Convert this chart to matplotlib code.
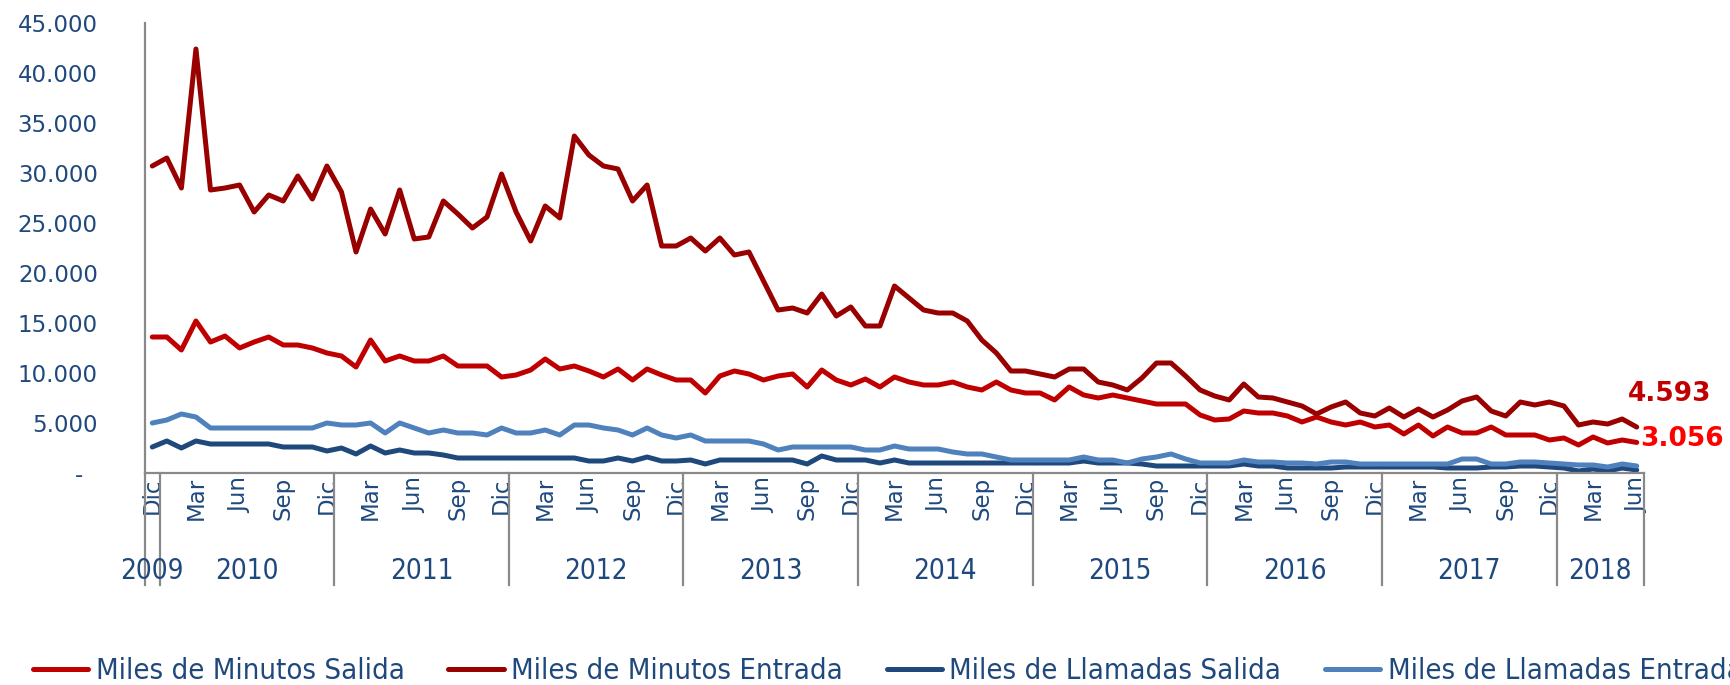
import numpy as np
import matplotlib.pyplot as plt
import matplotlib.transforms as mtransforms
from matplotlib.ticker import FuncFormatter

# meses de Dic 2009 a Jun 2018
meses = ['Ene', 'Feb', 'Mar', 'Abr', 'May', 'Jun', 'Jul', 'Ago', 'Sep', 'Oct', 'Nov', 'Dic']
etiquetas_mes = ['Dic'] + meses * 8 + meses[:6]
anios = ['2009', '2010', '2011', '2012', '2013', '2014', '2015', '2016', '2017', '2018']
meses_por_anio = [1, 12, 12, 12, 12, 12, 12, 12, 12, 6]

minutos_salida = [
    13600,
    13600, 12300, 15200, 13100, 13700, 12500, 13100, 13600, 12800, 12800, 12500, 12000,
    11700, 10600, 13300, 11200, 11700, 11200, 11200, 11700, 10700, 10700, 10700, 9600,
    9800, 10300, 11400, 10400, 10700, 10200, 9600, 10400, 9300, 10400, 9800, 9300,
    9300, 8000, 9700, 10200, 9900, 9300, 9700, 9900, 8600, 10300, 9300, 8800,
    9400, 8600, 9600, 9100, 8800, 8800, 9100, 8600, 8300, 9100, 8300, 8000,
    8000, 7300, 8600, 7800, 7500, 7800, 7500, 7200, 6900, 6900, 6900, 5800,
    5300, 5400, 6200, 6000, 6000, 5700, 5100, 5600, 5100, 4800, 5100, 4600,
    4800, 3900, 4800, 3700, 4600, 4000, 4000, 4600, 3800, 3800, 3800, 3300,
    3500, 2800, 3600, 3000, 3300, 3056,
]
minutos_entrada = [
    30700,
    31500, 28500, 42400, 28300, 28500, 28800, 26100, 27800, 27200, 29700, 27400, 30700,
    28100, 22100, 26400, 23900, 28300, 23400, 23600, 27200, 25900, 24500, 25600, 29900,
    26100, 23200, 26700, 25500, 33700, 31800, 30700, 30400, 27200, 28800, 22700, 22700,
    23500, 22200, 23500, 21800, 22100, 19200, 16300, 16500, 16000, 17900, 15700, 16600,
    14700, 14700, 18700, 17500, 16300, 16000, 16000, 15200, 13300, 12000, 10200, 10200,
    9900, 9600, 10400, 10400, 9100, 8800, 8300, 9500, 11000, 11000, 9700, 8300,
    7700, 7300, 8900, 7600, 7500, 7100, 6700, 5900, 6600, 7100, 6000, 5700,
    6500, 5600, 6400, 5600, 6300, 7200, 7600, 6200, 5700, 7100, 6800, 7100,
    6700, 4800, 5100, 4900, 5400, 4593,
]
llamadas_salida = [
    2600,
    3200, 2500, 3200, 2900, 2900, 2900, 2900, 2900, 2600, 2600, 2600, 2200,
    2500, 1900, 2700, 2000, 2300, 2000, 2000, 1800, 1500, 1500, 1500, 1500,
    1500, 1500, 1500, 1500, 1500, 1200, 1200, 1500, 1200, 1600, 1200, 1200,
    1300, 900, 1300, 1300, 1300, 1300, 1300, 1300, 900, 1700, 1300, 1300,
    1300, 1000, 1300, 1000, 1000, 1000, 1000, 1000, 1000, 1000, 1000, 1000,
    1000, 1000, 1000, 1200, 1000, 1000, 1000, 900, 700, 700, 700, 700,
    700, 700, 900, 700, 700, 500, 500, 500, 500, 600, 600, 600,
    600, 600, 600, 600, 500, 500, 500, 600, 600, 700, 700, 600,
    500, 200, 400, 200, 500, 300,
]
llamadas_entrada = [
    5000,
    5300, 5900, 5600, 4500, 4500, 4500, 4500, 4500, 4500, 4500, 4500, 5000,
    4800, 4800, 5000, 4000, 5000, 4500, 4000, 4300, 4000, 4000, 3800, 4500,
    4000, 4000, 4300, 3800, 4800, 4800, 4500, 4300, 3800, 4500, 3800, 3500,
    3800, 3200, 3200, 3200, 3200, 2900, 2300, 2600, 2600, 2600, 2600, 2600,
    2300, 2300, 2700, 2400, 2400, 2400, 2100, 1900, 1900, 1600, 1300, 1300,
    1300, 1300, 1300, 1600, 1300, 1300, 1000, 1400, 1600, 1900, 1400, 1000,
    1000, 1000, 1300, 1100, 1100, 1000, 1000, 900, 1100, 1100, 900, 900,
    900, 900, 900, 900, 900, 1400, 1400, 900, 900, 1100, 1100, 1000,
    900, 800, 800, 600, 900, 700,
]

series = [
    ('Miles de Minutos Salida', minutos_salida, '#C00000'),
    ('Miles de Minutos Entrada', minutos_entrada, '#990000'),
    ('Miles de Llamadas Salida', llamadas_salida, '#1F497D'),
    ('Miles de Llamadas Entrada', llamadas_entrada, '#4F81BD'),
]

azul_texto = '#1F497D'
gris = '#898989'
x = np.arange(len(etiquetas_mes))

W, H = 1731, 685
fig = plt.figure(figsize=(W / 100, H / 100), dpi=100)
ax = fig.add_axes([145 / W, 1 - 473 / H, (1644 - 145) / W, 450 / H])

lineas = []
for nombre, valores, color in series:
    l, = ax.plot(x, valores, color=color, lw=3.6, label=nombre,
                 solid_joinstyle='round', solid_capstyle='round')
    lineas.append(l)

ax.set_xlim(-0.5, len(x) - 0.5)
ax.set_ylim(0, 45000)
ax.set_yticks(np.arange(0, 45001, 5000))
ax.yaxis.set_major_formatter(FuncFormatter(
    lambda v, p: '-  ' if v == 0 else f'{v:,.0f}'.replace(',', '.')))
ax.tick_params(axis='y', length=0, pad=34, labelsize=16.5, labelcolor=azul_texto)

ax.set_xticks(x[::3])
ax.set_xticklabels(etiquetas_mes[::3], rotation=90)
ax.tick_params(axis='x', length=0, pad=3, labelsize=16.5, labelcolor=azul_texto)

for s in ['top', 'right']:
    ax.spines[s].set_visible(False)
for s in ['left', 'bottom']:
    ax.spines[s].set_color(gris)
    ax.spines[s].set_linewidth(1.6)

# separadores y etiquetas de año bajo el eje
trans = mtransforms.blended_transform_factory(ax.transData, ax.transAxes)
limites = np.concatenate([[-0.5], np.cumsum(meses_por_anio) - 0.5])
for b in limites:
    ax.plot([b, b], [0, -0.249], color=gris, lw=1.6, transform=trans, clip_on=False)
for anio, a, b in zip(anios, limites[:-1], limites[1:]):
    ax.text((a + b) / 2, -0.218, anio, transform=trans, ha='center', va='center',
            fontsize=20, fontstretch='condensed', color=azul_texto)

# valores del último mes
ax.annotate(f'{minutos_entrada[-1]:,}'.replace(',', '.'), (x[-1], minutos_entrada[-1]),
            xytext=(-9, 33), textcoords='offset pixels', ha='left', va='center',
            fontsize=19, fontweight='bold', color='#C00000', annotation_clip=False)
ax.annotate(f'{minutos_salida[-1]:,}'.replace(',', '.'), (x[-1], minutos_salida[-1]),
            xytext=(3, 3), textcoords='offset pixels', ha='left', va='center',
            fontsize=19, fontweight='bold', color='#FF0000', annotation_clip=False)

fig.legend(lineas, [s[0] for s in series], loc='center left',
           bbox_to_anchor=(33 / W, 1 - 671 / H), ncol=4, frameon=False,
           prop={'size': 21, 'stretch': 'condensed'}, labelcolor=azul_texto,
           handlelength=1.9, handletextpad=0.25, columnspacing=1.5,
           borderpad=0, borderaxespad=0)

fig.savefig('out.png', dpi=100)
